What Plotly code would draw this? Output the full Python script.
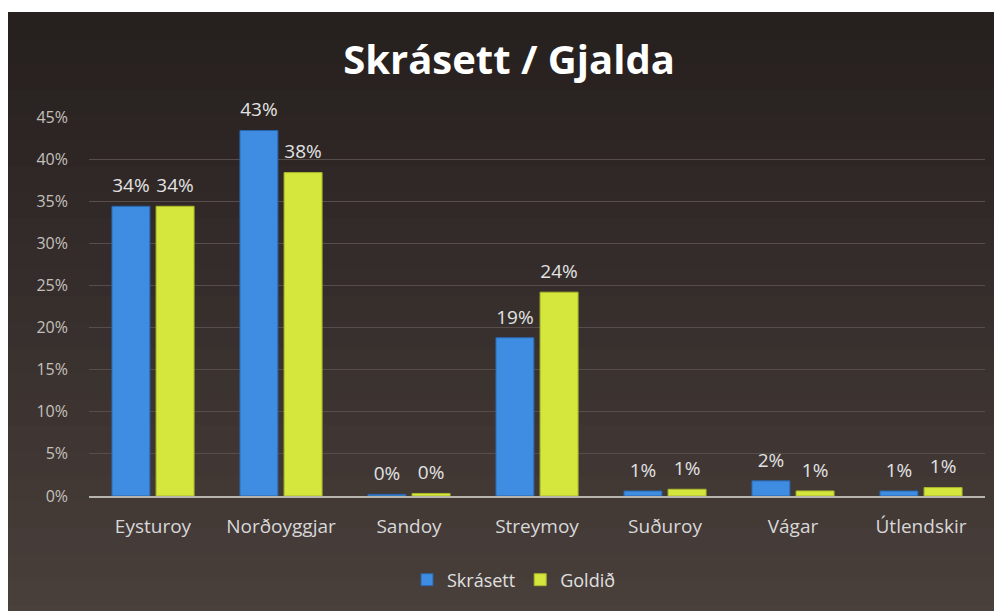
# plot.py
# Skrásett / Gjalda - bar chart

import plotly.graph_objects as go

categories = ["Eysturoy", "Norðoyggjar", "Sandoy", "Streymoy", "Suðuroy", "Vágar", "Útlendskir"]
skrasett = [0.344, 0.434, 0.002, 0.188, 0.006, 0.018, 0.006]
goldid = [0.344, 0.384, 0.003, 0.242, 0.008, 0.006, 0.010]
y_ticks = [0, 0.05, 0.10, 0.15, 0.20, 0.25, 0.30, 0.35, 0.40, 0.45]

FONT = "Open Sans"
W, H = 1002, 611
OFF = 8  # page body margin shifts the figure
# plot area wanted on screen: x 89..985, y 117..496
L = 89 - OFF
T = 117 - OFF
R = W - (985 - OFF)
B = H - (496 - OFF)


def px_to_paper(x=None, y=None):
    # screen pixel -> paper coordinate
    pw = W - L - R
    ph = H - T - B
    if x is not None:
        return (x - OFF - L) / pw
    return (H - B - (y - OFF)) / ph


# small second line lifts the label a bit above the bar
LABEL = "<span style='font-size:19px'>%{y:.0%}</span><br> "

fig = go.Figure()
fig.add_trace(go.Bar(
    x=categories, y=skrasett, name="Skrásett",
    marker=dict(color="#3f8de2", line=dict(color="#2a64a8", width=1)),
    texttemplate=LABEL, textposition="outside",
    textfont=dict(family=FONT, size=7, color="#e2e2e2"),
    cliponaxis=False,
))
fig.add_trace(go.Bar(
    x=categories, y=goldid, name="Goldið",
    marker=dict(color="#d5e63c", line=dict(color="#a9b82a", width=1)),
    texttemplate=LABEL, textposition="outside",
    textfont=dict(family=FONT, size=7, color="#e2e2e2"),
    cliponaxis=False,
))

# dark background with a soft vertical gradient, white strip on top/left
shapes = []
x0 = px_to_paper(x=7)
x1 = px_to_paper(x=W + 20)
top_px, bot_px = 12, H + 20
n = 24
c_top = (38, 32, 31)
c_bot = (74, 64, 60)
for i in range(n):
    ya = top_px + (bot_px - top_px) * i / n
    yb = top_px + (bot_px - top_px) * (i + 1) / n + 1
    t = i / (n - 1)
    c = tuple(int(c_top[k] + (c_bot[k] - c_top[k]) * t) for k in range(3))
    shapes.append(dict(
        type="rect", xref="paper", yref="paper", layer="below",
        x0=x0, x1=x1, y0=px_to_paper(y=yb), y1=px_to_paper(y=ya),
        fillcolor="rgb(%d,%d,%d)" % c, line=dict(width=0),
    ))

fig.update_layout(
    width=W, height=H,
    margin=dict(l=L, r=R, t=T, b=B, autoexpand=False),
    paper_bgcolor="white",
    plot_bgcolor="rgba(0,0,0,0)",
    shapes=shapes,
    barmode="group",
    bargap=0.31,
    bargroupgap=0.14,
    title=dict(
        text="<b>Skrásett / Gjalda</b>",
        x=(509 - OFF) / W, xref="container", xanchor="center",
        y=1 - (60 - OFF) / H, yanchor="middle",
        font=dict(family=FONT, size=40, color="white"),
    ),
    xaxis=dict(
        showgrid=False, showline=True, linecolor="#b8b4b0", linewidth=2,
        ticks="", tickfont=dict(family=FONT, size=19, color="#d8d8d8"),
        ticklabelstandoff=12,
    ),
    yaxis=dict(
        range=[0, 0.45], tickvals=y_ticks, tickformat=".0%",
        showgrid=True, gridcolor="#574e4b", gridwidth=1,
        zeroline=False, showline=False, ticks="",
        tickfont=dict(family=FONT, size=16, color="#c4c0bc"),
        ticklabelstandoff=20,
    ),
    legend=dict(
        orientation="h", x=px_to_paper(x=514), xanchor="center",
        y=px_to_paper(y=580), yanchor="middle",
        font=dict(family=FONT, size=18, color="#e0e0e0"),
        bgcolor="rgba(0,0,0,0)",
    ),
    showlegend=True,
)

fig.write_html("out.html")
